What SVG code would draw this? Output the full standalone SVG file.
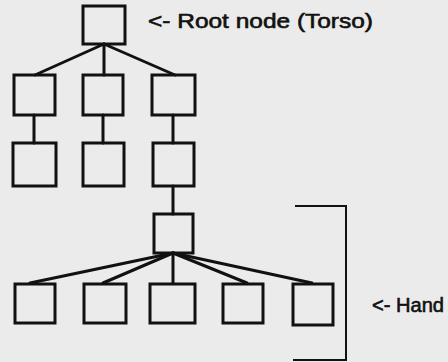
<svg xmlns="http://www.w3.org/2000/svg" width="448" height="362" viewBox="0 0 448 362">
<style>
.box{fill:none;stroke:#111;stroke-width:3}
.edge{stroke:#111;stroke-width:3;fill:none;stroke-linecap:round}
.br{stroke:#111;stroke-width:2;fill:none}
.lbl{font-family:"Liberation Sans",Arial,sans-serif;font-size:20px;fill:#111;stroke:#111;stroke-width:0.6}
</style>
<rect width="448" height="362" fill="#ebebeb"/>
<g id="connectors">
<line class="edge" x1="104" y1="44" x2="35" y2="75"/>
<line class="edge" x1="104" y1="44" x2="104" y2="75"/>
<line class="edge" x1="104" y1="44" x2="175" y2="75"/>
<line class="edge" x1="34" y1="115" x2="34" y2="143"/>
<line class="edge" x1="103" y1="115" x2="103" y2="143"/>
<line class="edge" x1="173" y1="115" x2="173" y2="143"/>
<line class="edge" x1="173" y1="186" x2="173" y2="214"/>
<line class="edge" x1="173" y1="253" x2="30" y2="283"/>
<line class="edge" x1="173" y1="253" x2="103" y2="283"/>
<line class="edge" x1="173" y1="253" x2="173" y2="283"/>
<line class="edge" x1="173" y1="253" x2="247" y2="283"/>
<line class="edge" x1="173" y1="253" x2="312" y2="283"/>
</g>
<g id="root"><rect class="box" x="83" y="6" width="42" height="38"/></g>
<g id="n1"><rect class="box" x="14" y="75" width="41" height="40"/></g>
<g id="n2"><rect class="box" x="83" y="75" width="40" height="40"/></g>
<g id="n3"><rect class="box" x="152" y="75" width="43" height="40"/></g>
<g id="n4"><rect class="box" x="13" y="143" width="43" height="43"/></g>
<g id="n5"><rect class="box" x="83" y="143" width="41" height="43"/></g>
<g id="n6"><rect class="box" x="153" y="143" width="41" height="43"/></g>
<g id="wrist"><rect class="box" x="154" y="214" width="39" height="39"/></g>
<g id="f1"><rect class="box" x="15" y="284" width="40" height="39"/></g>
<g id="f2"><rect class="box" x="84" y="284" width="42" height="39"/></g>
<g id="f3"><rect class="box" x="150" y="284" width="45" height="39"/></g>
<g id="f4"><rect class="box" x="223" y="284" width="40" height="39"/></g>
<g id="f5"><rect class="box" x="293" y="284" width="40" height="41"/></g>
<g id="bracket"><polyline class="br" points="295,206 346,206 346,360 293,360"/></g>
<g id="labels">
<text class="lbl" x="148" y="28" textLength="225" lengthAdjust="spacingAndGlyphs">&lt;- Root node (Torso)</text>
<text class="lbl" x="372" y="312" textLength="72" lengthAdjust="spacingAndGlyphs">&lt;- Hand</text>
</g>
</svg>
